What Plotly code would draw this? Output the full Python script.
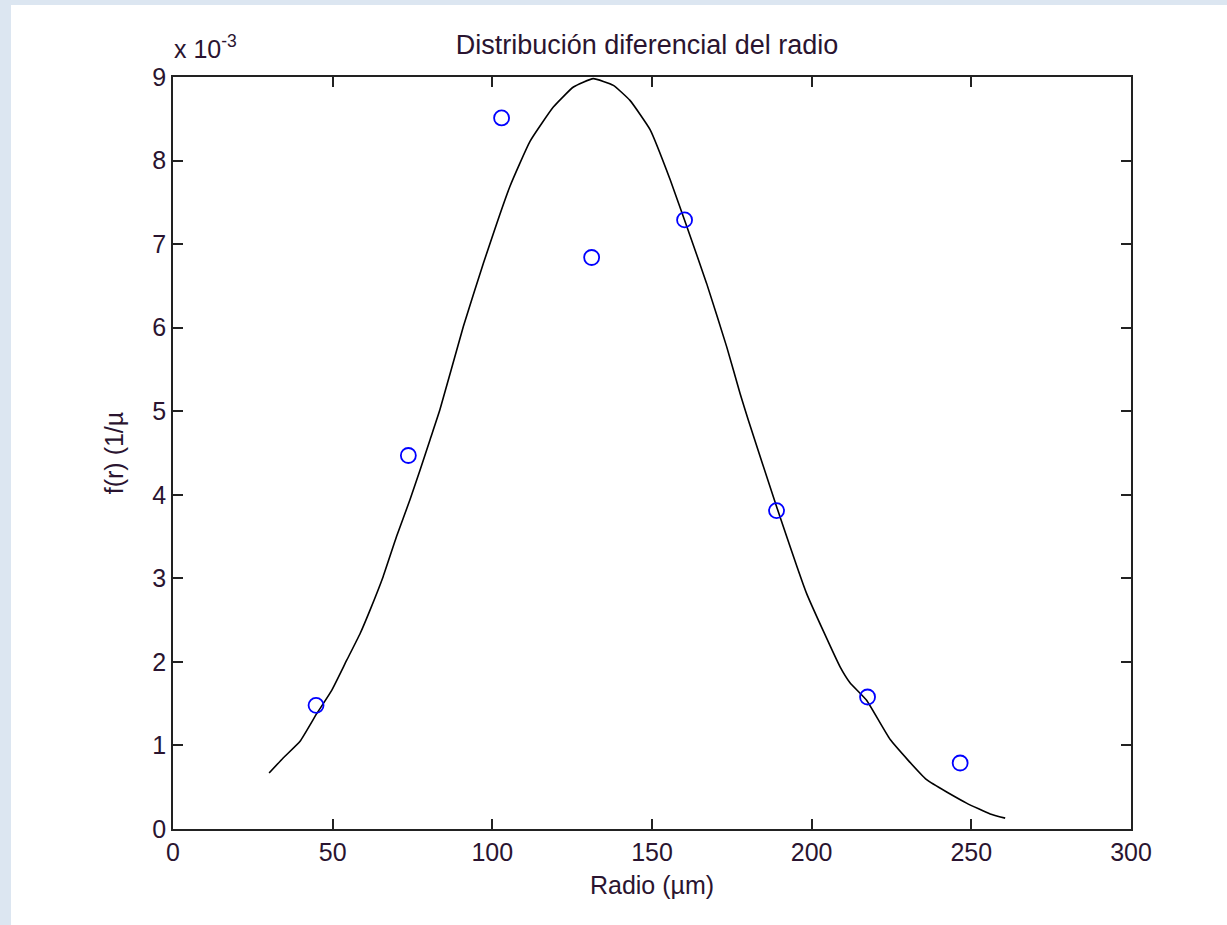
import plotly.graph_objects as go

# Measured data (f(r) in units of 1e-3 1/um)
radio_pts = [44.8, 73.7, 102.9, 131.1, 160.2, 189.0, 217.5, 246.5]
f_pts = [1.48, 4.47, 8.51, 6.84, 7.29, 3.81, 1.58, 0.79]

# Fitted curve
radio_fit = [30.1, 34.5, 39.8, 45.0, 49.7, 54.4, 58.6, 61.7, 65.8, 70.0, 74.2, 77.4,
             80.5, 83.6, 90.9, 97.2, 105.5, 111.8, 119.1, 125.4, 131.6, 137.9, 143.1,
             149.4, 155.7, 160.9, 167.1, 173.4, 177.6, 180.2, 189.0, 198.4, 208.9,
             212.0, 217.2, 224.6, 236.0, 248.5, 255.9, 260.6]
f_fit = [0.67, 0.85, 1.05, 1.38, 1.66, 2.02, 2.34, 2.62, 3.02, 3.50, 3.94, 4.30,
         4.66, 5.02, 6.01, 6.77, 7.69, 8.23, 8.64, 8.88, 8.98, 8.90, 8.72,
         8.37, 7.77, 7.21, 6.53, 5.77, 5.21, 4.89, 3.86, 2.82, 1.94,
         1.75, 1.54, 1.07, 0.59, 0.31, 0.18, 0.13]

x_ticks = [0, 50, 100, 150, 200, 250, 300]
y_ticks = [0, 1, 2, 3, 4, 5, 6, 7, 8, 9]

title_text = "Distribución diferencial del radio"
x_title = "Radio (µm)"
y_title = "f(r) (1/µ"

TXT = "#2a1430"
FONT = "Liberation Sans, Arial, sans-serif"

fig = go.Figure()
fig.add_trace(go.Scatter(x=radio_fit, y=f_fit, mode="lines",
                         line=dict(color="black", width=1.6, shape="spline", smoothing=0.4),
                         showlegend=False, hoverinfo="skip"))
fig.add_trace(go.Scatter(x=radio_pts, y=f_pts, mode="markers",
                         marker=dict(symbol="circle-open", size=15, color="#0000ff",
                                     line=dict(width=1.8, color="#0000ff")),
                         showlegend=False))

axis_common = dict(showline=True, linecolor="#222222", linewidth=1.6, mirror="ticks",
                   ticks="inside", ticklen=10, tickwidth=1.6, tickcolor="#222222",
                   showgrid=False, zeroline=False,
                   tickfont=dict(family=FONT, size=25, color=TXT))

fig.update_xaxes(range=[0, 300], tickvals=x_ticks, ticktext=[str(v) for v in x_ticks],
                 title=dict(text=x_title, font=dict(family=FONT, size=25, color=TXT), standoff=12),
                 **axis_common)
fig.update_yaxes(range=[0, 9], tickvals=y_ticks, ticktext=[str(v) for v in y_ticks],
                 title=dict(text=y_title, font=dict(family=FONT, size=25, color=TXT), standoff=22),
                 **axis_common)

fig.update_layout(
    width=1227, height=925,
    margin=dict(l=173, r=96, t=77, b=96, autoexpand=False),
    paper_bgcolor="#dce6f1", plot_bgcolor="white",
    title=dict(text=title_text, x=0.5273, xanchor="center", y=1 - 45 / 925, yanchor="middle",
               font=dict(family=FONT, size=27, color=TXT)),
    font=dict(family=FONT, color=TXT),
    shapes=[dict(type="rect", xref="paper", yref="paper",
                 x0=(11 - 173) / 958, x1=(1227 - 173) / 958 + 0.01,
                 y0=-96 / 752 - 0.01, y1=1 + (77 - 5) / 752,
                 fillcolor="white", line=dict(width=0), layer="below")],
    annotations=[dict(text="x 10<sup>-3</sup>", xref="paper", yref="paper",
                      x=-0.001, y=1 + 12 / 752, xanchor="left", yanchor="bottom",
                      showarrow=False, font=dict(family=FONT, size=25, color=TXT))],
)

fig.write_html("out.html")
